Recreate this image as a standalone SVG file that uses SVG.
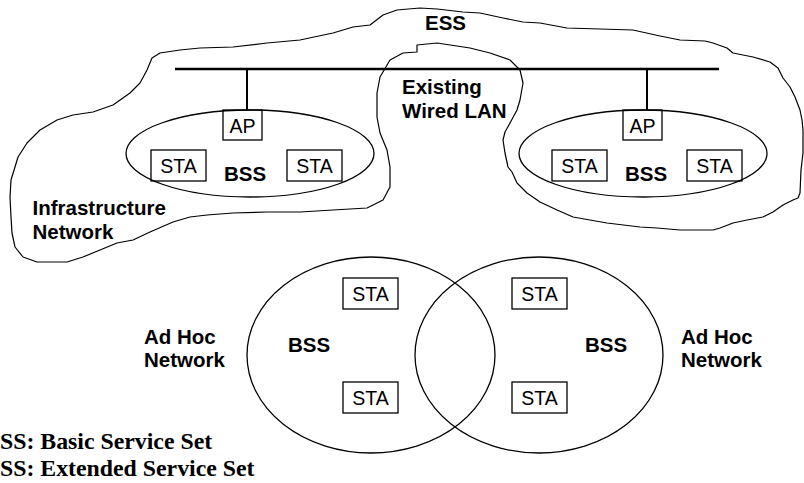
<svg xmlns="http://www.w3.org/2000/svg" width="804" height="483" viewBox="0 0 804 483">
<style>
.bg{fill:#fff}
.cloud{fill:none;stroke:#000;stroke-width:1.2;stroke-linejoin:round}
.ell{fill:none;stroke:#000;stroke-width:1.3}
.box{fill:none;stroke:#000;stroke-width:1.3}
.bus{stroke:#000;stroke-width:2.6}
.drop{stroke:#000;stroke-width:2}
.t{font-family:"Liberation Sans",Arial,sans-serif;font-size:19.5px;fill:#000;text-anchor:middle}
.b{font-family:"Liberation Sans",Arial,sans-serif;font-size:20.5px;font-weight:bold;fill:#000}
.bc{text-anchor:middle}
.leg{font-family:"Liberation Serif","Times New Roman",serif;font-size:23.8px;font-weight:bold;fill:#000}
</style>
<rect class="bg" x="0" y="0" width="804" height="483"/>

<g id="ess-cloud">
<path class="cloud" d="M370,25 L353,27 L333,33 L300,40 L267,43 L233,47 L200,48 L180,50 L160,53 L152,58 L147,70 L140,83 L130,93 L113,105 L93,112 L73,115 L57,120 L40,130 L27,143 L18,157 L15,167 L11,180 L10,197 L11,217 L12,233 L15,247 L23,257 L37,262 L67,262 L83,257 L100,250 L117,243 L133,240 L150,232 L173,222 L190,217 L207,215 L233,213 L267,212 L300,212 L333,210 L367,208 L383,200 L390,187 L390,167 L387,150 L380,133 L377,117 L377,93 L380,77 L390,60 L403,53 L417,52 L417,45 L437,43 L470,48 L490,53 L510,60 L520,70 L523,83 L520,100 L517,110 L510,123 L505,132 L503,140 L505,153 L508,167 L512,172 L517,183 L527,193 L540,202 L557,210 L573,217 L590,220 L607,223 L640,227 L657,228 L680,230 L713,230 L720,228 L733,223 L747,220 L763,217 L773,212 L783,205 L793,200 L798,198 L800,193 L801,170 L803,153 L803,130 L802,120 L800,110 L795,97 L790,87 L783,78 L778,68 L770,62 L753,57 L733,53 L727,48 L713,43 L705,41 L680,40 L660,36 L633,30 L567,28 L540,23 L523,22 L503,18 L480,13 L463,12 L437,9 L420,8 L397,10 L383,15 Z"/>
<text class="b bc" x="445.5" y="29.5">ESS</text>
</g>

<g id="wired-lan">
<line class="bus" x1="175" y1="69" x2="719" y2="69"/>
<text class="b" x="402" y="94">Existing</text>
<text class="b" x="402" y="118">Wired LAN</text>
</g>

<g id="connectors">
<line class="drop" x1="247" y1="69" x2="247" y2="110"/>
<line class="drop" x1="647" y1="69" x2="647" y2="110"/>
</g>

<g id="bss-infra-left">
<ellipse class="ell" cx="250" cy="153.5" rx="124" ry="43.5"/>
<text class="b bc" x="245" y="181">BSS</text>
</g>
<g id="ap-left"><rect class="box" x="223" y="110" width="39" height="30"/><text class="t" x="242.5" y="132.5">AP</text></g>
<g id="sta-infra-l1"><rect class="box" x="151" y="150" width="55" height="31"/><text class="t" x="178.5" y="173">STA</text></g>
<g id="sta-infra-l2"><rect class="box" x="287" y="150" width="55" height="31"/><text class="t" x="314.5" y="173">STA</text></g>

<g id="bss-infra-right">
<ellipse class="ell" cx="643" cy="153.5" rx="124" ry="43.5"/>
<text class="b bc" x="646" y="181">BSS</text>
</g>
<g id="ap-right"><rect class="box" x="623" y="110" width="39" height="30"/><text class="t" x="642.5" y="132.5">AP</text></g>
<g id="sta-infra-r1"><rect class="box" x="552" y="150" width="55" height="31"/><text class="t" x="579.5" y="173">STA</text></g>
<g id="sta-infra-r2"><rect class="box" x="687" y="150" width="55" height="31"/><text class="t" x="714.5" y="173">STA</text></g>

<g id="infra-label">
<text class="b" x="32.5" y="215">Infrastructure</text>
<text class="b" x="32.5" y="239">Network</text>
</g>

<g id="bss-adhoc-left">
<ellipse class="ell" cx="371" cy="355" rx="124" ry="98"/>
<text class="b bc" x="309" y="351.5">BSS</text>
</g>
<g id="sta-adhoc-l1"><rect class="box" x="343" y="278" width="55" height="31"/><text class="t" x="370.5" y="301">STA</text></g>
<g id="sta-adhoc-l2"><rect class="box" x="343" y="382" width="55" height="31"/><text class="t" x="370.5" y="405">STA</text></g>

<g id="bss-adhoc-right">
<ellipse class="ell" cx="539" cy="355" rx="124" ry="98"/>
<text class="b bc" x="606" y="351.5">BSS</text>
</g>
<g id="sta-adhoc-r1"><rect class="box" x="512" y="278" width="55" height="31"/><text class="t" x="539.5" y="301">STA</text></g>
<g id="sta-adhoc-r2"><rect class="box" x="512" y="382" width="55" height="31"/><text class="t" x="539.5" y="405">STA</text></g>

<g id="adhoc-label-left">
<text class="b" x="144" y="344">Ad Hoc</text>
<text class="b" x="144" y="367">Network</text>
</g>
<g id="adhoc-label-right">
<text class="b" x="681" y="344">Ad Hoc</text>
<text class="b" x="681" y="367">Network</text>
</g>

<g id="legend">
<text class="leg" x="-15.9" y="449">BSS: Basic Service Set</text>
<text class="leg" x="-15.9" y="476">ESS: Extended Service Set</text>
</g>
</svg>
